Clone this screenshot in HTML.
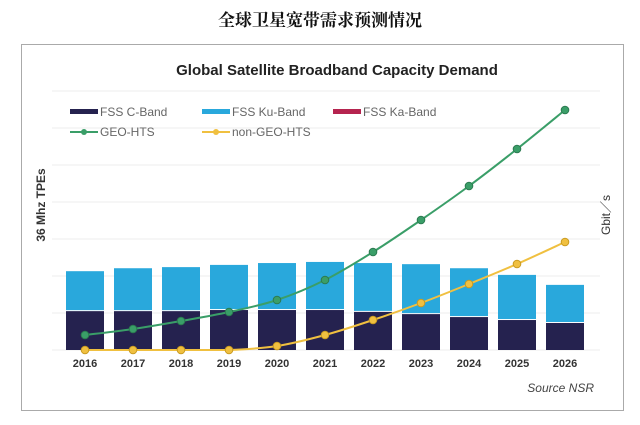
<!DOCTYPE html>
<html><head><meta charset="utf-8"><style>
body{margin:0;background:#fff;width:640px;height:420px;overflow:hidden;font-family:"Liberation Sans",sans-serif}
</style></head><body>
<svg width="640" height="420" xmlns="http://www.w3.org/2000/svg">
<text x="320" y="26" text-anchor="middle" font-family="'Liberation Serif','Noto Serif CJK SC',serif" font-size="17" font-weight="bold" fill="#111">全球卫星宽带需求预测情况</text>
<rect x="21.5" y="44.5" width="602" height="366" fill="#fff" stroke="#aaa"/>
<text x="337" y="75" text-anchor="middle" font-size="15" font-weight="bold" fill="#222">Global Satellite Broadband Capacity Demand</text>
<g id="grid"></g><g id="bars"></g><g id="lines"></g><g id="xt"></g>
<g font-size="12" fill="#666">
<rect x="70" y="109" width="28" height="5" fill="#25224f"/><text x="100" y="116">FSS C-Band</text>
<rect x="202" y="109" width="28" height="5" fill="#29a8dc"/><text x="232" y="116">FSS Ku-Band</text>
<rect x="333" y="109" width="28" height="5" fill="#b5244f"/><text x="363" y="116">FSS Ka-Band</text>
<line x1="70" y1="132" x2="98" y2="132" stroke="#3a9e68" stroke-width="2"/><circle cx="84" cy="132" r="3" fill="#3a9e68"/><text x="100" y="136">GEO-HTS</text>
<line x1="202" y1="132" x2="230" y2="132" stroke="#f0c040" stroke-width="2"/><circle cx="216" cy="132" r="3" fill="#f0c040"/><text x="232" y="136">non-GEO-HTS</text>
</g>
<text transform="translate(45,205) rotate(-90)" text-anchor="middle" font-size="12" font-weight="bold" fill="#333">36 Mhz  TPEs</text>
<text transform="translate(610,215) rotate(-90)" text-anchor="middle" font-size="12" fill="#333">Gbit／s</text>
<text x="594" y="392" text-anchor="end" font-size="12" font-style="italic" fill="#444">Source  NSR</text>
</svg>
<script>
const years=["2016","2017","2018","2019","2020","2021","2022","2023","2024","2025","2026"];
const cBand=[105,105,105,108,108,108,103,97,89,81,73];
const kuBand=[108,116,119,122,127,130,132,135,132,122,103];
const geoHts=[15,21,29,38,50,70,98,130,164,201,240];
const nonGeoHts=[0,0,0,0,4,15,30,47,66,86,108];
const gridTicks=[0,100,200,300,400,500,600,700];
const NS="http://www.w3.org/2000/svg";
function mk(t,a,p){const e=document.createElementNS(NS,t);for(const k in a)e.setAttribute(k,a[k]);p.appendChild(e);return e;}
const x=i=>85+i*48;
const yL=v=>350-v*0.37;
const yR=v=>350-v;
const grid=document.getElementById('grid');
gridTicks.forEach(t=>{const l=mk('line',{x1:52,x2:600,y1:yL(t),y2:yL(t),stroke:'#ececec','stroke-width':1},grid);

});
const bars=document.getElementById('bars');
years.forEach((y,i)=>{
 const c=mk('rect',{x:x(i)-19,y:yL(cBand[i]),width:38,height:350-yL(cBand[i]),fill:'#25224f'},bars);
 
 
 const k=mk('rect',{x:x(i)-19,y:yL(cBand[i]+kuBand[i]),width:38,height:yL(cBand[i])-yL(cBand[i]+kuBand[i])-1,fill:'#29a8dc'},bars);
 
 
 const t=mk('text',{x:x(i),y:367,'text-anchor':'middle','font-size':11,'font-weight':'bold',fill:'#333'},document.getElementById('xt'));
 t.textContent=y;
 
 
});
const lines=document.getElementById('lines');
function series(vals,col,dark,name){
 const P=vals.map((v,i)=>[x(i),yR(v)]);
 let d='M'+P[0][0]+','+P[0][1];
 for(let i=0;i<P.length-1;i++){
  const p0=P[Math.max(0,i-1)],p1=P[i],p2=P[i+1],p3=P[Math.min(P.length-1,i+2)];
  const c1=[p1[0]+(p2[0]-p0[0])/6,p1[1]+(p2[1]-p0[1])/6];
  const c2=[p2[0]-(p3[0]-p1[0])/6,p2[1]-(p3[1]-p1[1])/6];
  d+='C'+c1[0]+','+Math.min(350,c1[1])+' '+c2[0]+','+Math.min(350,c2[1])+' '+p2[0]+','+p2[1];
 }
 const p=mk('path',{d:d,fill:'none',stroke:col,'stroke-width':2},lines);
 
 
 P.forEach(q=>{const c=mk('circle',{cx:q[0],cy:q[1],r:3.8,fill:col,stroke:dark,'stroke-width':1},lines);
 
 });
}
series(geoHts,'#3a9e68','#2b7a50','geo-hts');
series(nonGeoHts,'#f0c040','#c99a20','non-geo-hts');
</script>
</body></html>
